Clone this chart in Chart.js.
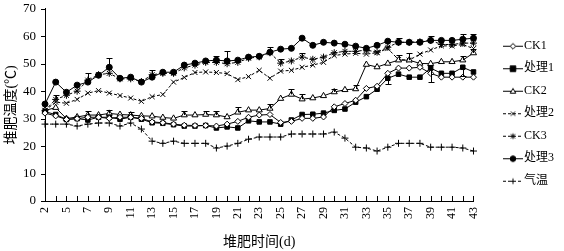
<!DOCTYPE html>
<html>
<head>
<meta charset="utf-8">
<script src="https://cdn.jsdelivr.net/npm/chart.js@4.4.0/dist/chart.umd.min.js"></script>
<style>
  html, body { margin: 0; padding: 0; background: #fff; }
  #wrap { width: 564px; height: 251px; position: relative; }
</style>
</head>
<body>
<div id="wrap"><canvas id="tempChart"></canvas></div>
<script>
// composting days (day 3 not sampled)
var days = ['2','4','5','6','7','8','9','10','11','12','13','14','15','16','17','18','19','20','21','22','23',
            '24','25','26','27','28','29','30','31','32','33','34','35','36','37','38','39','40','41','42','43'];

var ck1  = [32, 31, 29.7, 30, 30.5, 30.5, 30.1, 30.5, 30.5, 30.1, 28.8, 28.5, 28, 27.6, 27.5, 27.5, 27.3, 28, 29, 30.5, 31.3,
            31.5, 28.6, 29, 30.1, 30.1, 30.6, 34.3, 35.5, 36.7, 41, 41.8, 46.5, 48.4, 48.4, 48.7, 46.5, 45.1, 45.1, 45.1, 45.1];
var trt1 = [32.5, 31.5, 29.7, 30, 29.5, 30.5, 30.5, 29.8, 30.5, 29.8, 28.5, 28.3, 27.8, 27.3, 27.3, 27.5, 26.6, 27, 26.6, 29.2, 28.8,
            28.8, 28, 29.5, 31.5, 31.6, 32, 33, 33.5, 36, 38, 40.7, 44.7, 46.2, 45.1, 45.1, 48.4, 46.5, 46.5, 48.7, 47];
var ck2  = [33, 34, 30, 30.6, 31.3, 31.3, 31.9, 31.5, 31.3, 31, 30.9, 30.4, 30.1, 31.3, 31.3, 31.5, 31.3, 30.6, 32.3, 33.1, 33.1,
            33.7, 37.3, 38.8, 37.1, 37.5, 38.3, 39.7, 40.5, 40.8, 49.7, 48.8, 50.1, 51.3, 51.3, 50.1, 50, 50.7, 50.7, 51.3, 53.9];
var trt2 = [33, 36, 35.6, 37, 39.3, 40.2, 39.3, 38.4, 37.5, 36.3, 38, 38.8, 43.3, 45, 46.8, 47, 46.8, 46.4, 44.2, 45.3, 47.6,
            44.7, 47.3, 47.6, 48.7, 49.5, 50.5, 53, 53.5, 53.8, 53.5, 54, 55.5, 51.5, 51.3, 53.5, 55, 56.5, 56.5, 57, 55.5];
var ck3  = [33, 37, 38.5, 40, 44, 46, 46.5, 44.5, 44.5, 43.5, 46, 46.5, 46.5, 48.5, 49.5, 50.5, 50.5, 50, 50.5, 52, 52.5,
            54, 50.2, 51, 52.4, 51.6, 52.4, 54, 54.5, 54.5, 55, 54.2, 56, 57.8, 57.8, 58, 58.5, 57, 57, 57.5, 57.5];
var trt3 = [35.3, 43.3, 39.6, 42.2, 43.3, 45.8, 48.7, 44.7, 45.1, 43.3, 45.1, 46.9, 46.9, 49.5, 50.2, 51, 51.3, 51, 51.3, 52.4, 52.7,
            54.2, 55.3, 55.6, 59.3, 56.7, 57.8, 57.5, 57.1, 56.4, 55.6, 56.7, 58.2, 57.8, 57.8, 57.8, 58.5, 58.5, 58.5, 58.9, 59.3];
var airT = [28, 28, 28, 27.3, 28, 28.4, 28.4, 27.3, 28.4, 26.2, 21.8, 21, 21.8, 21, 21, 21, 19.3, 20, 21, 22.5, 23.3,
            23.3, 23.3, 24.4, 24.4, 24.4, 24.4, 25.1, 22.9, 19.6, 19.3, 18.2, 19.6, 21, 21, 21, 19.6, 19.6, 19.6, 19.3, 18.2];

// error bars, one-sided (+ up, - down), 0 = none
var errTrt1 = [0, 0, 0, 0, 0, 0, 0, 0, 0, 0, 0, 0, 0, 0, 0, 0, 0, 0, 0, 0, 0,
               0, 0, 0, 0, 0, 0, 0, 0, 0, 0, 0, -2, 0, 0, 0, -5, 0, 0, -3, 0];
var errCk2  = [0, 0, 0, 0, 1.5, 0, 1.3, 0, 1.2, 0, 0, 0, 0, 1.5, 0, 1.2, 1.5, 0, 2, 0, 0,
               1.5, 0, 2, 2, 0, 0, 1.2, 0, 1.5, 0, 0, 0, 2, 2.5, 0, 0, 0, 0, 1.5, 1.5];
var errCk3  = [0, 1.5, 0, 0, 2.5, 0, 0, 0, 0, 0, 1.6, 0, 0, 0, 0, 0, 2.2, 4.6, 0, 0, 0,
               0, 1.5, 0, 1.5, 0, 0, 0, 0, 0, 0, 0, 0, 1.5, 0, 0, 1.5, 0, 0, 1.8, 0];
var errTrt3 = [0, 0, 0, 0, 0, 0, 3.3, 0, 0, 0, 0, 0, 0, 0, 0, 0, 0, 0, 0, 0, 0,
               2, 0, 0, 0, 0, 0, 0, 0, 0, 0, 0, 0, 0, 0, 0, 0, 0, 0, 2, 1.5];

var seriesNames = ['CK1', '处理1', 'CK2', '处理2', 'CK3', '处理3', '气温'];
var yTicks = [0, 10, 20, 30, 40, 50, 60, 70];

var serif = "'Liberation Serif', 'Times New Roman', 'Noto Sans CJK SC', serif";

function makeSet(label, data, style, filled, dashed, radius, errs) {
    return {
        label: label,
        data: data,
        errors: errs,
        borderColor: '#000',
        borderWidth: 1,
        borderDash: dashed ? [3, 2] : [],
        pointStyle: style,
        pointRadius: radius,
        pointBorderWidth: 1,
        pointBorderColor: '#000',
        pointBackgroundColor: filled ? '#000' : '#fff',
        tension: 0,
        fill: false
    };
}

var datasets = [
    makeSet(seriesNames[0], ck1, 'rectRot', false, false, 3),
    makeSet(seriesNames[1], trt1, 'rect', true, false, 3.2, errTrt1),
    makeSet(seriesNames[2], ck2, 'triangle', false, false, 3.5, errCk2),
    makeSet(seriesNames[3], trt2, 'crossRot', false, true, 3.5),
    makeSet(seriesNames[4], ck3, 'star', false, true, 3.5, errCk3),
    makeSet(seriesNames[5], trt3, 'circle', true, false, 3, errTrt3),
    makeSet(seriesNames[6], airT, 'cross', false, true, 3.5)
];

// small legend icons: line with the marker in the middle
function drawMarker(c, style, filled, x, y, r) {
    c.beginPath();
    if (style === 'circle') {
        c.arc(x, y, r, 0, Math.PI * 2);
    } else if (style === 'rect') {
        c.rect(x - r, y - r, 2 * r, 2 * r);
    } else if (style === 'rectRot') {
        c.moveTo(x, y - r); c.lineTo(x + r, y); c.lineTo(x, y + r); c.lineTo(x - r, y); c.closePath();
    } else if (style === 'triangle') {
        c.moveTo(x, y - r); c.lineTo(x + r, y + r * 0.7); c.lineTo(x - r, y + r * 0.7); c.closePath();
    }
    if (style === 'cross' || style === 'star') {
        c.moveTo(x - r, y); c.lineTo(x + r, y); c.moveTo(x, y - r); c.lineTo(x, y + r);
    }
    if (style === 'crossRot' || style === 'star') {
        var d = r * 0.75;
        c.moveTo(x - d, y - d); c.lineTo(x + d, y + d); c.moveTo(x + d, y - d); c.lineTo(x - d, y + d);
    }
    if (style === 'circle' || style === 'rect' || style === 'rectRot' || style === 'triangle') {
        c.fillStyle = filled ? '#000' : '#fff';
        c.fill();
    }
    c.stroke();
}

var icons = datasets.map(function(ds) {
    var cv = document.createElement('canvas');
    cv.width = 64; cv.height = 14;
    var c = cv.getContext('2d');
    c.strokeStyle = '#000';
    c.lineWidth = 1;
    c.setLineDash(ds.borderDash);
    c.beginPath(); c.moveTo(34, 7.5); c.lineTo(54, 7.5); c.stroke();
    c.setLineDash([]);
    drawMarker(c, ds.pointStyle, ds.pointBackgroundColor === '#000', 44, 7.5, 2.8);
    return cv;
});

// T-shaped error bars
const errorBars = {
    id: 'errorBars',
    afterDatasetsDraw(chart) {
        const ctx = chart.ctx, x = chart.scales.x, y = chart.scales.y;
        ctx.save();
        ctx.strokeStyle = '#000';
        ctx.lineWidth = 1;
        chart.data.datasets.forEach(function(ds) {
            if (!ds.errors) return;
            ds.errors.forEach(function(e, i) {
                if (!e) return;
                let px = Math.round(x.getPixelForValue(i)) + 0.5;
                let y0 = y.getPixelForValue(ds.data[i]);
                let y1 = Math.round(y.getPixelForValue(ds.data[i] + e)) + 0.5;
                ctx.beginPath();
                ctx.moveTo(px, y0);
                ctx.lineTo(px, y1);
                ctx.moveTo(px - 3, y1);
                ctx.lineTo(px + 3, y1);
                ctx.stroke();
            });
        });
        ctx.restore();
    }
};

// inward ticks on the x axis, outward ticks on the y axis
const tickMarks = {
    id: 'tickMarks',
    afterDraw(chart) {
        const ctx = chart.ctx, x = chart.scales.x, y = chart.scales.y;
        ctx.save();
        ctx.strokeStyle = '#000';
        ctx.lineWidth = 1;
        ctx.beginPath();
        for (let i = 0; i < x.ticks.length; i++) {
            let px = Math.round(x.getPixelForTick(i)) + 0.5;
            ctx.moveTo(px, x.top);
            ctx.lineTo(px, x.top - 5);
        }
        for (let i = 0; i < y.ticks.length; i++) {
            let py = Math.round(y.getPixelForTick(i)) + 0.5;
            ctx.moveTo(y.right, py);
            ctx.lineTo(y.right - 4, py);
        }
        ctx.stroke();
        ctx.restore();
    }
};

var ctx = document.getElementById('tempChart');

var tempChart = new Chart(ctx, {
    type: 'line',
    data: { labels: days, datasets: datasets },
    plugins: [errorBars, tickMarks],
    options: {
        responsive: true,
        maintainAspectRatio: false,
        animation: false,
        layout: { padding: { top: 1, right: 0, bottom: 0, left: 0 } },
        scales: {
            x: {
                offset: false,
                grid: { display: false, drawTicks: true, tickLength: 5 },
                border: { display: true, color: '#000', width: 1 },
                afterFit: function(scale) { scale.height = 50; },
                ticks: {
                    autoSkip: false,
                    maxRotation: 90,
                    minRotation: 90,
                    padding: 1,
                    color: '#000',
                    font: { family: serif, size: 12 },
                    callback: function(val, index) {
                        return index % 2 === 0 ? this.getLabelForValue(val) : '';
                    }
                },
                title: {
                    display: true,
                    text: '堆肥时间(d)',
                    color: '#000',
                    padding: { top: 0, bottom: 0 },
                    font: { family: serif, size: 14 }
                }
            },
            y: {
                min: yTicks[0],
                max: yTicks[yTicks.length - 1],
                grid: { display: false, drawTicks: true, tickLength: 8 },
                border: { display: true, color: '#000', width: 1 },
                afterFit: function(scale) { scale.width = 45; },
                ticks: {
                    stepSize: 10,
                    padding: 1,
                    color: '#000',
                    font: { family: serif, size: 13 }
                },
                title: {
                    display: true,
                    text: '堆肥温度(℃)',
                    color: '#000',
                    padding: { top: 3, bottom: 0 },
                    font: { family: serif, size: 14 }
                }
            }
        },
        plugins: {
            tooltip: { enabled: false },
            legend: {
                position: 'right',
                align: 'start',
                title: { display: true, text: '', padding: { top: 27, bottom: 0 }, font: { size: 1 } },
                labels: {
                    usePointStyle: true,
                    pointStyleWidth: 34,
                    padding: 10.5,
                    color: '#000',
                    font: { family: serif, size: 12 },
                    generateLabels: function(chart) {
                        var items = Chart.defaults.plugins.legend.labels.generateLabels(chart);
                        items.forEach(function(it, i) { it.pointStyle = icons[i]; });
                        return items;
                    }
                }
            }
        }
    }
});
</script>
</body>
</html>
